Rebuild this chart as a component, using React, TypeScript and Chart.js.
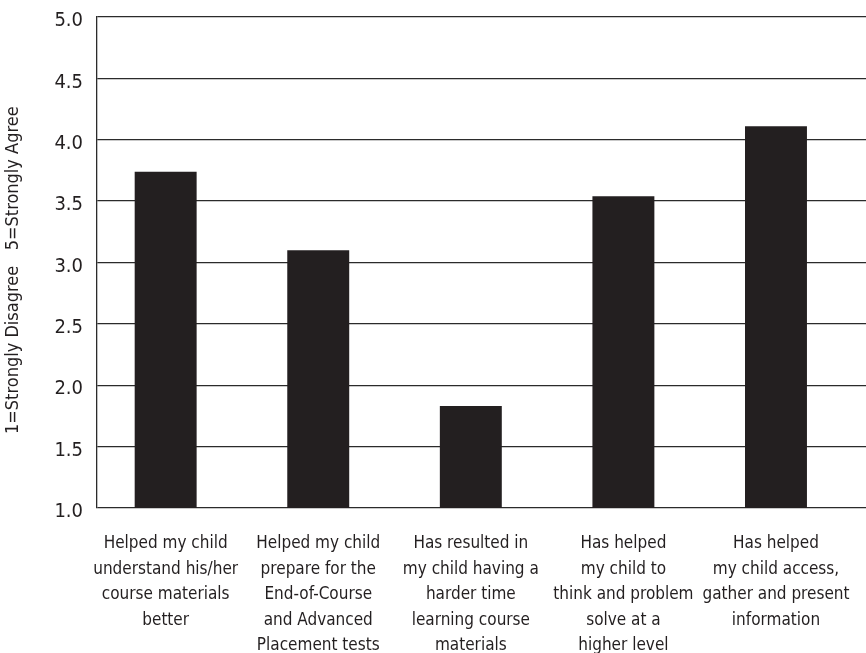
import React, { useEffect, useRef } from "react";
import { Chart, registerables } from "chart.js";

Chart.register(...registerables);

const categories: string[][] = [
  ["Helped my child", "understand his/her", "course materials", "better"],
  ["Helped my child", "prepare for the", "End-of-Course", "and Advanced", "Placement tests"],
  ["Has resulted in", "my child having a", "harder time", "learning course", "materials"],
  ["Has helped", "my child to", "think and problem", "solve at a", "higher level"],
  ["Has helped", "my child access,", "gather and present", "information"],
];
const meanScores: number[] = [3.74, 3.1, 1.83, 3.54, 4.11];
const yTitle = "1=Strongly Disagree   5=Strongly Agree";
const yMin = 1.0;
const yMax = 5.0;
const yStep = 0.5;

const FONT = "'Liberation Sans Narrow', 'DejaVu Sans Condensed', 'Arial Narrow', sans-serif";
const INK = "#231f20";

export default function App() {
  const ref = useRef<HTMLCanvasElement | null>(null);
  useEffect(() => {
    if (!ref.current) return;
    const chart = new Chart(ref.current, {
      type: "bar",
      data: {
        datasets: [
          {
            data: meanScores.map((v, i) => ({ x: i, y: v })),
            backgroundColor: INK,
            borderWidth: 0,
            barPercentage: 0.406,
            categoryPercentage: 1.0,
          },
        ],
      },
      options: {
        animation: false,
        responsive: true,
        maintainAspectRatio: false,
        layout: { padding: { top: 2, right: 0, bottom: 0, left: 0 } },
        plugins: { legend: { display: false }, tooltip: { enabled: false } },
        scales: {
          x: {
            type: "linear",
            min: -0.45,
            max: 4.59,
            offset: false,
            grid: { display: false },
            border: { display: false },
            afterFit: (s: any) => {
              s.height = 145;
            },
            ticks: {
              stepSize: 1,
              includeBounds: false,
              autoSkip: false,
              maxRotation: 0,
              minRotation: 0,
              padding: 15,
              color: INK,
              font: { family: FONT, size: 17, lineHeight: 1.5 },
              callback: (v: any) => {
                const i = Math.round(Number(v));
                return Math.abs(Number(v) - i) < 1e-6 && categories[i] ? categories[i] : "";
              },
            },
          },
          y: {
            min: yMin,
            max: yMax,
            afterFit: (s: any) => {
              s.width = 97;
            },
            grid: { color: "#2b2b2b", lineWidth: 1.3, drawTicks: false },
            border: { display: true, color: "#2b2b2b", width: 1.3 },
            title: {
              display: true,
              text: yTitle + "\u00a0\u00a0\u00a0",
              color: INK,
              font: { family: FONT, size: 18 },
              padding: { top: 3, bottom: 0 },
            },
            ticks: {
              stepSize: yStep,
              padding: 14,
              labelOffset: 4,
              color: INK,
              font: { family: FONT, size: 20, lineHeight: 0.3 },
              callback: (v: any) => Number(v).toFixed(1),
            },
          },
        },
      },
    });
    return () => chart.destroy();
  }, []);
  return (
    <div style={{ position: "absolute", left: 0, top: 0, width: 866, height: 653, background: "#fff" }}>
      <canvas ref={ref} />
    </div>
  );
}
